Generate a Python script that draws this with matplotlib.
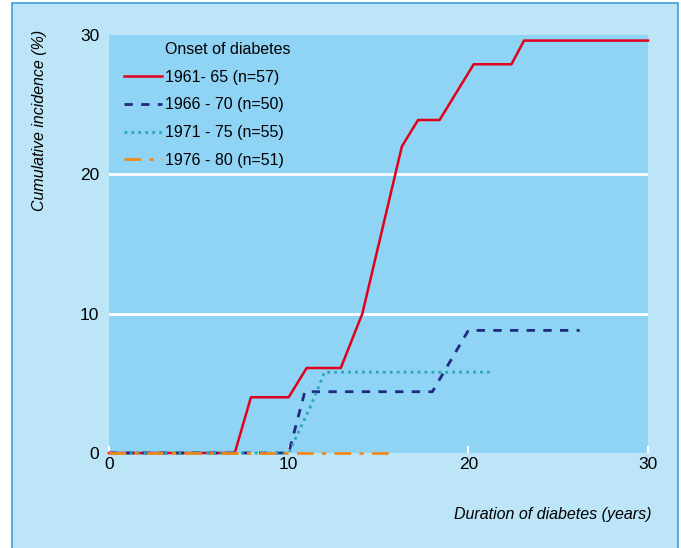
import matplotlib
matplotlib.use("Agg")
import matplotlib.pyplot as plt
from matplotlib.lines import Line2D
from matplotlib.patches import Rectangle

plt.rcParams["font.family"] = ["Liberation Sans Narrow", "Liberation Sans", "DejaVu Sans"]

# cumulative incidence (%) against duration of diabetes (years)
x_6165 = [0, 7.0, 7.9, 10.0, 11.0, 12.9, 14.1, 16.3, 17.2, 18.4, 20.3, 22.4, 23.1, 30]
y_6165 = [0, 0, 4.0, 4.0, 6.1, 6.1, 10.0, 22.0, 23.9, 23.9, 27.9, 27.9, 29.6, 29.6]

x_6670 = [0, 10.0, 10.9, 18.0, 20.0, 26.2]
y_6670 = [0, 0, 4.4, 4.4, 8.8, 8.8]

x_7175 = [0, 10.0, 11.2, 12.0, 21.2]
y_7175 = [0, 0, 3.3, 5.8, 5.8]

x_7680 = [0, 16.0]
y_7680 = [0, 0]

labels = ["1961- 65 (n=57)", "1966 - 70 (n=50)", "1971 - 75 (n=55)", "1976 - 80 (n=51)"]
colors = ["#e2001a", "#1f2a80", "#2aa7b8", "#f08a1c"]
styles = ["-", (0, (3, 3)), (0, (1, 1.5)), (0, (6, 3, 1.5, 3))]

outer_bg = "#bde5f8"
plot_bg = "#8fd3f5"
fs = 11.5

fig = plt.figure(figsize=(6.81, 5.48), dpi=100)
fig.patch.set_facecolor("white")
fig.patches.append(Rectangle((12 / 681, -0.05), 666 / 681, 1.05 - 3 / 548,
                             transform=fig.transFigure, facecolor=outer_bg,
                             edgecolor="#3a9fdc", linewidth=1.2, zorder=-5))

ax = fig.add_axes([109 / 681, 1 - 453 / 548, 539 / 681, 418 / 548])
ax.set_facecolor(plot_bg)
for s in ax.spines.values():
    s.set_visible(False)

ax.set_xlim(0, 30)
ax.set_ylim(0, 30)
ax.set_xticks([0, 10, 20, 30])
ax.set_yticks([0, 10, 20, 30])
ax.tick_params(axis="x", direction="in", color="white", length=5, width=1.5,
               labelsize=fs + 1, pad=3)
ax.tick_params(axis="y", length=0, labelsize=fs + 1, pad=7)
for g in [10, 20]:
    ax.axhline(g, color="white", lw=2, zorder=1)

series = [(x_6165, y_6165), (x_6670, y_6670), (x_7175, y_7175), (x_7680, y_7680)]
handles = [Line2D([], [], color="none")]
for (xs, ys), c, ls, lab in zip(series, colors, styles, labels):
    lw = 1.8 if ls == "-" else 2.0
    ax.plot(xs, ys, color=c, ls=ls, lw=lw, clip_on=False, zorder=3)
    handles.append(Line2D([], [], color=c, ls=ls, lw=lw))

leg = ax.legend(handles, ["Onset of diabetes"] + labels, loc="upper left",
                bbox_to_anchor=(0.002, 1.018), frameon=False, fontsize=fs,
                handlelength=2.35, handletextpad=0.2, labelspacing=0.8)

fig.text(40 / 681, 1 - 120 / 548, "Cumulative incidence (%)", rotation=90,
         ha="center", va="center", fontsize=fs, style="italic")
fig.text(652 / 681, 1 - 514 / 548, "Duration of diabetes (years)",
         ha="right", va="center", fontsize=fs, style="italic")

fig.savefig("out.png", dpi=100)
